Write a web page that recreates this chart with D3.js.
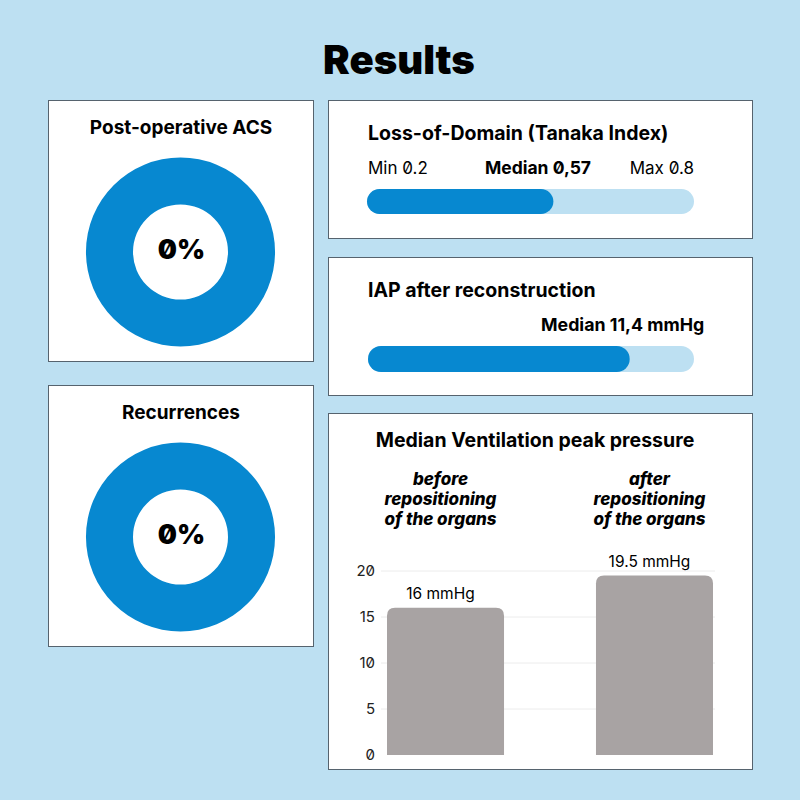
<!DOCTYPE html>
<html><head><meta charset="utf-8">
<script src="https://cdn.jsdelivr.net/npm/d3@7"></script>
<style>
html,body{margin:0;padding:0;background:#bde0f2;}
svg{display:block;font-family:Inter, "Noto Sans", sans-serif;font-feature-settings:"zero" 1;}
</style></head><body>
<svg id="c" width="800" height="800"></svg>
<script>
// ---- data ----
const pageTitle = "Results";
const donutTitles = ["Post-operative ACS", "Recurrences"];
const donutValues = [0, 0]; // percent
const tanakaTitle = "Loss-of-Domain (Tanaka Index)";
const tanakaMin = 0.2, tanakaMedian = 0.57, tanakaMax = 0.8;
const tanakaLabels = ["Min 0.2", "Median 0,57", "Max 0.8"];
const iapTitle = "IAP after reconstruction";
const iapMedian = 11.4, iapScaleMax = 14.2;
const iapLabel = "Median 11,4 mmHg";
const ventTitle = "Median Ventilation peak pressure";
const ventCategories = [["before","repositioning","of the organs"],["after","repositioning","of the organs"]];
const ventValues = [16, 19.5];
const ventLabels = ["16 mmHg", "19.5 mmHg"];
const ventTicks = [0, 5, 10, 15, 20];

// ---- drawing ----
const svg = d3.select("#c");
const BLUE = "#0788d0", TRACK = "#bde0f2", BORDER = "#56636e", GRAY = "#a8a3a3";

svg.append("text").attr("x", 399).attr("y", 74).attr("text-anchor", "middle")
  .attr("font-size", 40).attr("font-weight", 900).attr("fill", "#000").text(pageTitle);

function panel(x, y, w, h) {
  svg.append("rect").attr("x", x + 0.5).attr("y", y + 0.5).attr("width", w).attr("height", h)
    .attr("fill", "#fff").attr("stroke", BORDER).attr("stroke-width", 1);
}

// Donut panels
const donutPanels = [{y: 100}, {y: 385}];
const pie = d3.pie().sort(null).value(d => d);
const arc = d3.arc().innerRadius(47.5).outerRadius(94.5);
donutPanels.forEach((p, i) => {
  panel(48, p.y, 265, 261);
  svg.append("text").attr("x", 181).attr("y", p.y + 34).attr("text-anchor", "middle")
    .attr("font-size", 19).attr("font-weight", 700).text(donutTitles[i]);
  const g = svg.append("g").attr("transform", `translate(180.5,${p.y + 152})`);
  const v = donutValues[i];
  g.selectAll("path").data(pie([v, 100 - v])).join("path")
    .attr("d", arc).attr("fill", (d, j) => j === 0 ? "#003f6b" : BLUE);
  g.append("text").attr("text-anchor", "middle").attr("y", 7).attr("x", 1)
    .attr("font-size", 27).attr("font-weight", 900).attr("font-family", "Inter, sans-serif").text(v + "%");
});

// Tanaka panel
panel(328, 100, 424, 138);
svg.append("text").attr("x", 368).attr("y", 140).attr("font-size", 19.5).attr("font-weight", 700).text(tanakaTitle);
const tx = d3.scaleLinear().domain([0, 1]).range([367, 694]);
svg.append("text").attr("x", 368).attr("y", 174).attr("font-size", 17).text(tanakaLabels[0]);
svg.append("text").attr("x", 538).attr("y", 174).attr("text-anchor", "middle").attr("font-size", 17.5).attr("font-weight", 700).text(tanakaLabels[1]);
svg.append("text").attr("x", 694).attr("y", 174).attr("text-anchor", "end").attr("font-size", 17).text(tanakaLabels[2]);
svg.append("rect").attr("x", tx(0)).attr("y", 189).attr("width", tx(1) - tx(0)).attr("height", 25).attr("rx", 12.5).attr("fill", TRACK);
svg.append("rect").attr("x", tx(0)).attr("y", 189).attr("width", tx(tanakaMedian) - tx(0)).attr("height", 25).attr("rx", 12.5).attr("fill", BLUE);

// IAP panel
panel(328, 257, 424, 138);
svg.append("text").attr("x", 368).attr("y", 297).attr("font-size", 19.5).attr("font-weight", 700).text(iapTitle);
const ix = d3.scaleLinear().domain([0, iapScaleMax]).range([368, 694]);
svg.append("text").attr("x", 541).attr("y", 331).attr("font-size", 17.8).attr("font-weight", 700).text(iapLabel);
svg.append("rect").attr("x", ix(0)).attr("y", 346).attr("width", ix(iapScaleMax) - ix(0)).attr("height", 26).attr("rx", 13).attr("fill", TRACK);
svg.append("rect").attr("x", ix(0)).attr("y", 346).attr("width", ix(iapMedian) - ix(0)).attr("height", 26).attr("rx", 13).attr("fill", BLUE);

// Ventilation panel
panel(328, 413, 424, 356);
svg.append("text").attr("x", 535).attr("y", 447).attr("text-anchor", "middle").attr("font-size", 19.5).attr("font-weight", 700).text(ventTitle);
const y = d3.scaleLinear().domain([0, 20]).range([755, 571]);
const x = d3.scaleBand().domain(ventCategories.map((d, i) => i)).range([387, 713]).paddingInner(0.44).paddingOuter(0);
// grid
svg.append("g").selectAll("line").data(ventTicks.filter(t => t > 0)).join("line")
  .attr("x1", 381).attr("x2", 715).attr("y1", d => y(d)).attr("y2", d => y(d))
  .attr("stroke", "#ececec").attr("stroke-width", 1);
// axis
const ax = svg.append("g").attr("transform", "translate(375,0)")
  .call(d3.axisLeft(y).tickValues(ventTicks).tickSize(0).tickPadding(0));
ax.select(".domain").remove();
ax.selectAll("text").attr("font-size", 15).attr("font-family", "Inter, sans-serif").attr("fill", "#222").attr("font-feature-settings", "'zero' 1");
// bars with rounded top
const r = 8;
svg.append("g").selectAll("path").data(ventValues).join("path")
  .attr("fill", GRAY)
  .attr("d", (d, i) => {
    const x0 = x(i), x1 = x(i) + x.bandwidth(), yt = y(d), yb = y(0);
    return `M${x0},${yb}V${yt + r}Q${x0},${yt} ${x0 + r},${yt}H${x1 - r}Q${x1},${yt} ${x1},${yt + r}V${yb}Z`;
  });
svg.append("g").selectAll("text").data(ventLabels).join("text")
  .attr("x", (d, i) => x(i) + x.bandwidth() / 2 - 5).attr("y", (d, i) => y(ventValues[i]) - 9)
  .attr("text-anchor", "middle").attr("font-size", 15.5).text(d => d);
ventCategories.forEach((lines, i) => {
  const t = svg.append("text").attr("text-anchor", "middle").attr("font-size", 17)
    .attr("font-weight", 800).attr("font-style", "italic");
  lines.forEach((l, k) => t.append("tspan").attr("x", x(i) + x.bandwidth() / 2 - 5).attr("y", 485 + k * 20).text(l));
});
</script>
</body></html>
